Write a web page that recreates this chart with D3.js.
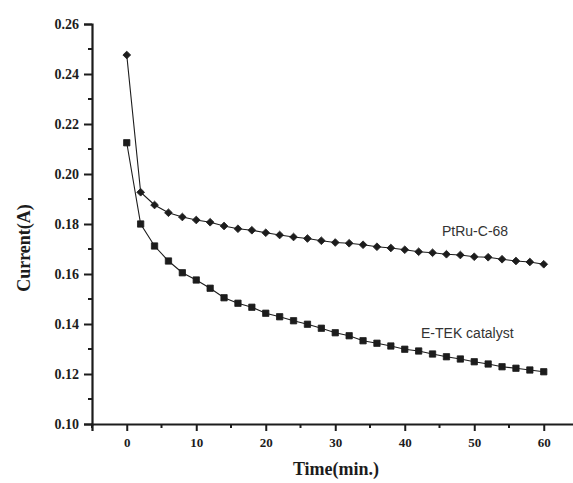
<!DOCTYPE html>
<html>
<head>
<meta charset="utf-8">
<script src="https://cdn.jsdelivr.net/npm/d3@7"></script>
<style>
  body { margin: 0; background: #fff; }
  svg { display: block; }
</style>
</head>
<body>
<svg></svg>
<script>
const width = 573;
const height = 483;

// data, time in minutes
const times = [0, 2, 4, 6, 8, 10, 12, 14, 16, 18, 20, 22, 24, 26, 28, 30,
  32, 34, 36, 38, 40, 42, 44, 46, 48, 50, 52, 54, 56, 58, 60];
const ptru = [0.2476, 0.1927, 0.1876, 0.1845, 0.1828, 0.1816, 0.1807, 0.1792, 0.1781, 0.1775, 0.1765,
  0.1756, 0.1748, 0.1742, 0.1733, 0.1726, 0.1723, 0.1717, 0.1709, 0.1704, 0.1697,
  0.1689, 0.1685, 0.1679, 0.1676, 0.1669, 0.1667, 0.1659, 0.1652, 0.1648, 0.1639];
const etek = [0.2125, 0.1800, 0.1712, 0.1652, 0.1605, 0.1576, 0.1543, 0.1505, 0.1483, 0.1467, 0.1443,
  0.1429, 0.1413, 0.1399, 0.1383, 0.1365, 0.1353, 0.1333, 0.1323, 0.1312, 0.1299,
  0.1292, 0.1280, 0.1269, 0.1260, 0.1249, 0.1240, 0.1229, 0.1223, 0.1216, 0.1209];
const yTicks = [0.10, 0.12, 0.14, 0.16, 0.18, 0.20, 0.22, 0.24, 0.26];
const xTicks = [0, 10, 20, 30, 40, 50, 60];
const labels = ['PtRu-C-68', 'E-TEK catalyst'];

const svg = d3.select('svg')
    .attr('width', width)
    .attr('height', height);

const x = d3.scaleLinear().domain([-5, 65]).range([92, 578.5]);
const y = d3.scaleLinear().domain([0.10, 0.26]).range([424, 24]);

const ink = '#1c1c1c';
const serif = '"Liberation Serif", "Times New Roman", serif';

// y axis, major + minor ticks
const yAxis = svg.append('g')
    .attr('transform', `translate(${x(-5)},0)`)
    .call(d3.axisLeft(y).tickValues(yTicks).tickSize(8).tickPadding(5)
        .tickFormat(d3.format('.2f')));
yAxis.append('g').selectAll('line')
    .data(d3.range(0.11, 0.26, 0.02))
    .enter().append('line')
    .attr('x1', 0).attr('x2', -4)
    .attr('y1', d => y(d)).attr('y2', d => y(d))
    .attr('stroke', ink).attr('stroke-width', 2);

// x axis
const xAxis = svg.append('g')
    .attr('transform', `translate(0,${y(0.10)})`)
    .call(d3.axisBottom(x).tickValues(xTicks).tickSize(7).tickPadding(7));
xAxis.append('g').selectAll('line')
    .data([-5, 5, 15, 25, 35, 45, 55, 65])
    .enter().append('line')
    .attr('x1', d => x(d)).attr('x2', d => x(d))
    .attr('y1', 0).attr('y2', 4)
    .attr('stroke', ink).attr('stroke-width', 2);

[yAxis, xAxis].forEach(a => {
    a.attr('font-family', serif);
    a.select('.domain').attr('stroke', ink).attr('stroke-width', 2.2);
    a.selectAll('.tick line').attr('stroke', ink).attr('stroke-width', 2);
    a.selectAll('.tick text')
        .attr('fill', ink)
        .attr('font-family', serif)
        .attr('font-weight', 'bold');
});
yAxis.selectAll('.tick text').attr('font-size', 14);
xAxis.selectAll('.tick text').attr('font-size', 13);

// axis titles
svg.append('text')
    .attr('transform', `translate(30,248) rotate(-90)`)
    .attr('text-anchor', 'middle')
    .attr('font-family', serif)
    .attr('font-weight', 'bold')
    .attr('font-size', 18)
    .attr('fill', ink)
    .text('Current(A)');

svg.append('text')
    .attr('x', 336).attr('y', 475)
    .attr('text-anchor', 'middle')
    .attr('font-family', serif)
    .attr('font-weight', 'bold')
    .attr('font-size', 18)
    .attr('fill', ink)
    .text('Time(min.)');

// curves
const line = d3.line()
    .x((d, i) => x(times[i]))
    .y(d => y(d));

const series = [
    { values: ptru, symbol: d3.symbolSquare, size: 30, rotate: 45 },
    { values: etek, symbol: d3.symbolSquare, size: 40, rotate: 0 }
];

series.forEach(s => {
    svg.append('path')
        .datum(s.values)
        .attr('d', line)
        .attr('fill', 'none')
        .attr('stroke', ink)
        .attr('stroke-width', 1.1)
        .attr('stroke-dasharray', (d, i) => null);

    svg.append('g').selectAll('path')
        .data(s.values)
        .enter().append('path')
        .attr('transform', (d, i) => `translate(${x(times[i])},${y(d)}) rotate(${s.rotate})`)
        .attr('d', d3.symbol().type(s.symbol).size(s.size))
        .attr('fill', ink)
        .attr('stroke', ink)
        .attr('stroke-width', 0.8);
});

// curve labels
const sans = '"Liberation Sans", Arial, sans-serif';
svg.append('text')
    .attr('x', 442).attr('y', 236)
    .attr('font-family', sans).attr('font-size', 14)
    .attr('fill', '#333')
    .text(labels[0]);
svg.append('text')
    .attr('x', 421).attr('y', 338)
    .attr('font-family', sans).attr('font-size', 14)
    .attr('fill', '#333')
    .text(labels[1]);
</script>
</body>
</html>
